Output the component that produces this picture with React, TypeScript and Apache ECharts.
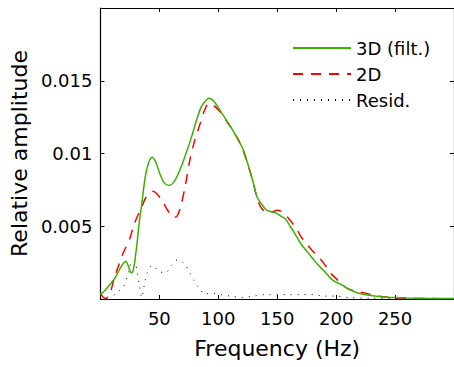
import React, { useEffect, useRef } from "react";
import * as echarts from "echarts";

const FONT = "DejaVu Sans";

// Frequency (Hz) and amplitude, 3D filtered
const freq3D = [0, 4, 8, 12, 16, 19, 21.5, 24, 26, 27.5, 29, 31, 33, 35.5, 38, 41, 44, 47, 50, 54, 58, 62, 66, 70, 73, 76, 79, 82, 85, 88, 92, 95, 98, 102, 106, 110, 113, 117, 121, 125, 129, 133, 137, 141, 145, 149, 153, 157, 161, 165, 170, 175, 180, 184, 190, 197, 204, 211, 219, 228, 238, 250, 260, 280, 300];
const amp3D = [0.0003, 0.0006, 0.001, 0.0014, 0.002, 0.0024, 0.0026, 0.0022, 0.0018, 0.0019, 0.0025, 0.0038, 0.0053, 0.0068, 0.0084, 0.0094, 0.00975, 0.0094, 0.0087, 0.008, 0.0078, 0.008, 0.0086, 0.0094, 0.0101, 0.0108, 0.0116, 0.0124, 0.0131, 0.0135, 0.0138, 0.0137, 0.0134, 0.0129, 0.0124, 0.0119, 0.0115, 0.0109, 0.0103, 0.0093, 0.0082, 0.007, 0.0065, 0.0061, 0.006, 0.0059, 0.0057, 0.0055, 0.005, 0.0045, 0.0038, 0.0033, 0.0028, 0.0024, 0.0019, 0.0013, 0.001, 0.00067, 0.0004, 0.00025, 0.00016, 0.0001, 0.00007, 0.00004, 0.00003];

// 2D
const freq2D = [0, 2, 4, 6, 8, 10, 12, 15, 19, 24.7, 28, 31.5, 35, 38, 41, 44, 47, 52, 57, 62, 65, 68, 72, 76, 80, 84, 88, 92, 96, 100, 104, 108, 113, 118, 122, 126, 130, 133, 137, 141, 146, 150, 154, 158, 162, 166, 170, 175, 180, 185, 190, 195, 200, 205, 210, 216, 222, 230, 240, 250, 265, 300];
const amp2D = [0.0004, 0.00015, 0.00005, 0.0001, 0.0003, 0.0009, 0.0015, 0.0022, 0.0031, 0.0041, 0.005, 0.0057, 0.0063, 0.0069, 0.0072, 0.0074, 0.0073, 0.0068, 0.0061, 0.0056, 0.0057, 0.0063, 0.0078, 0.0096, 0.0109, 0.0119, 0.0129, 0.01345, 0.0133, 0.013, 0.0126, 0.0121, 0.0115, 0.0108, 0.01, 0.009, 0.0079, 0.0069, 0.0062, 0.006, 0.006, 0.0061, 0.006, 0.0057, 0.0053, 0.0049, 0.0043, 0.0038, 0.0033, 0.0029, 0.0024, 0.0018, 0.0014, 0.001, 0.0007, 0.00055, 0.00045, 0.0003, 0.00015, 0.00008, 0.00004, 0.00002];

// Residual
const freqRes = [0, 5, 10, 15, 20, 24, 27, 29.6, 31, 33, 35, 37.7, 39.7, 43.7, 49.7, 55.4, 60, 65.5, 71.5, 75.8, 79, 83.2, 88.6, 95.4, 102, 110, 120, 130, 140, 150, 160, 170, 180, 190, 200, 210, 230, 260, 300];
const ampRes = [0, 0.0001, 0.0002, 0.0005, 0.0009, 0.0019, 0.0026, 0.0026, 0.0019, 0.001, 0.0001, 0.0012, 0.0018, 0.0023, 0.0019, 0.0018, 0.0023, 0.0027, 0.0024, 0.0018, 0.0013, 0.0008, 0.00034, 0.0004, 0.0003, 0.0002, 0.0001, 0.0002, 0.0003, 0.0003, 0.0003, 0.0003, 0.0003, 0.0002, 0.0002, 0.0001, 0.00005, 0.00003, 0.00002];

const seriesNames = ["3D (filt.)", "2D", "Resid."];
const xTicks = [0, 50, 100, 150, 200, 250, 300];
const yTicks = [0, 0.005, 0.01, 0.015, 0.02];

const zip = (xs: number[], ys: number[]) => xs.map((x, i) => [x, ys[i]]);

export default function App() {
  const ref = useRef<HTMLDivElement>(null);
  useEffect(() => {
    if (!ref.current) return;
    const chart = echarts.init(ref.current, null, { renderer: "svg" });
    const axisLine = { show: true, onZero: false, lineStyle: { color: "#000", width: 1.2 } };
    const tick = { show: true, inside: true, length: 4, lineStyle: { color: "#000", width: 1 } };
    chart.setOption({
      animation: false,
      backgroundColor: "#fff",
      grid: { left: 91, right: -5, top: 8, bottom: 68 },
      legend: {
        orient: "vertical",
        left: 287,
        top: 34,
        itemWidth: 58,
        itemHeight: 14,
        itemGap: 8,
        itemStyle: { opacity: 0 },
        textStyle: { fontSize: 18, fontFamily: FONT, color: "#000" },
        data: seriesNames,
      },
      xAxis: [
        {
          type: "value",
          min: xTicks[0],
          max: xTicks[xTicks.length - 1],
          interval: 50,
          name: "Frequency (Hz)",
          nameLocation: "middle",
          nameGap: 38,
          nameTextStyle: { fontSize: 22, fontFamily: FONT, color: "#000" },
          axisLine,
          axisTick: tick,
          axisLabel: { showMinLabel: false, showMaxLabel: false, margin: 10, fontSize: 18, fontFamily: FONT, color: "#000" },
          splitLine: { show: false },
        },
        {
          type: "value",
          position: "top",
          min: xTicks[0],
          max: xTicks[xTicks.length - 1],
          interval: 50,
          axisLine,
          axisTick: tick,
          axisLabel: { show: false },
          splitLine: { show: false },
        },
      ],
      yAxis: [
        {
          type: "value",
          min: yTicks[0],
          max: yTicks[yTicks.length - 1],
          interval: 0.005,
          name: "Relative amplitude",
          nameLocation: "middle",
          nameGap: 58,
          nameTextStyle: { fontSize: 22, fontFamily: FONT, color: "#000" },
          axisLine,
          axisTick: tick,
          axisLabel: { showMinLabel: false, showMaxLabel: false, margin: 8, fontSize: 18, fontFamily: FONT, color: "#000" },
          splitLine: { show: false },
        },
        {
          type: "value",
          position: "right",
          min: yTicks[0],
          max: yTicks[yTicks.length - 1],
          interval: 0.005,
          axisLine,
          axisTick: tick,
          axisLabel: { show: false },
          splitLine: { show: false },
        },
      ],
      series: [
        {
          name: seriesNames[0],
          type: "line",
          data: zip(freq3D, amp3D),
          smooth: 0.3,
          symbol: "none",
          z: 4,
          color: "#3cb000",
          lineStyle: { color: "#3cb000", width: 1.5 },
        },
        {
          name: seriesNames[1],
          type: "line",
          data: zip(freq2D, amp2D),
          smooth: 0.3,
          symbol: "none",
          z: 3,
          color: "#ff0000",
          lineStyle: { color: "#ff0000", width: 1.5, type: [10, 8] },
        },
        {
          name: seriesNames[2],
          type: "line",
          data: zip(freqRes, ampRes),
          smooth: 0.3,
          symbol: "none",
          z: 2,
          color: "#000",
          lineStyle: { color: "#000", width: 1, type: [1, 6] },
        },
      ],
    });
    return () => chart.dispose();
  }, []);
  return <div ref={ref} style={{ position: "absolute", left: 0, top: 0, width: 454, height: 367 }} />;
}
